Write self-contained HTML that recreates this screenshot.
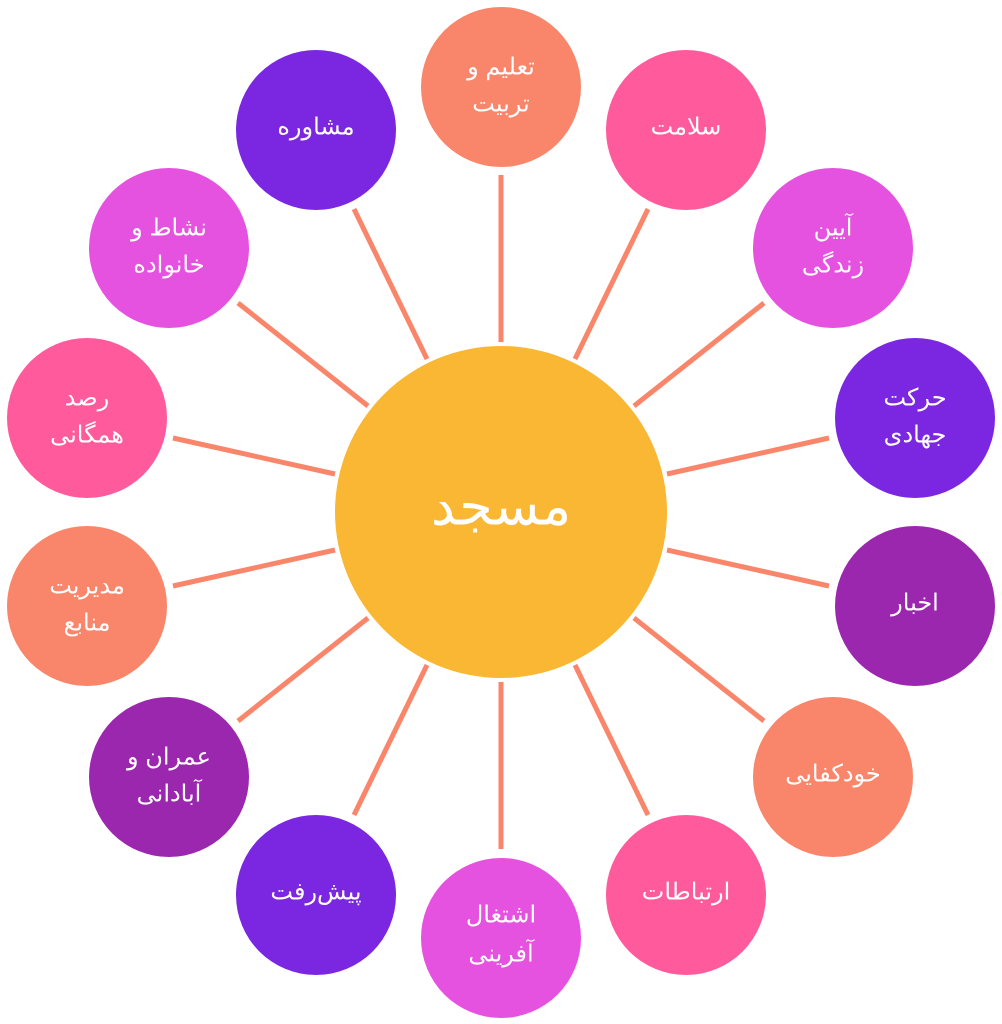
<!DOCTYPE html>
<html><head><meta charset="utf-8"><style>
html,body{margin:0;padding:0;background:#fff;}
svg{display:block}
text{font-family:"Liberation Sans","Noto Sans CJK SC","DejaVu Sans",sans-serif;fill:#fff;text-anchor:middle;dominant-baseline:middle;font-size:24px;}
</style></head><body>
<svg width="1002" height="1024" viewBox="0 0 1002 1024" xmlns="http://www.w3.org/2000/svg">
<g stroke="#F9866A" stroke-width="5" stroke-linecap="butt">
<line x1="501" y1="342" x2="501" y2="175"/>
<line x1="575" y1="359" x2="648" y2="209"/>
<line x1="634" y1="406" x2="764" y2="303"/>
<line x1="667" y1="474" x2="829" y2="438"/>
<line x1="667" y1="550" x2="829" y2="586"/>
<line x1="634" y1="618" x2="764" y2="721"/>
<line x1="575" y1="665" x2="648" y2="815"/>
<line x1="501" y1="682" x2="501" y2="849"/>
<line x1="427" y1="665" x2="354" y2="815"/>
<line x1="368" y1="618" x2="238" y2="721"/>
<line x1="335" y1="550" x2="173" y2="586"/>
<line x1="335" y1="474" x2="173" y2="438"/>
<line x1="368" y1="406" x2="238" y2="303"/>
<line x1="427" y1="359" x2="354" y2="209"/>
</g>
<circle cx="501" cy="512" r="166" fill="#FAB733"/>
<text x="501" y="510" style="font-size:54px">مسجد</text>

<circle cx="501" cy="87" r="80" fill="#F9866A"/>
<text x="501" y="68">تعلیم و</text><text x="501" y="105">تربیت</text>

<circle cx="686" cy="130" r="80" fill="#FF5A9B"/>
<text x="686" y="128">سلامت</text>

<circle cx="833" cy="248" r="80" fill="#E652E0"/>
<text x="833" y="229">آیین</text><text x="833" y="266">زندگی</text>

<circle cx="915" cy="418" r="80" fill="#7B26E0"/>
<text x="915" y="399">حرکت</text><text x="915" y="436">جهادی</text>

<circle cx="915" cy="606" r="80" fill="#9B27AF"/>
<text x="915" y="604">اخبار</text>

<circle cx="833" cy="777" r="80" fill="#F9866A"/>
<text x="833" y="775">خودکفایی</text>

<circle cx="686" cy="895" r="80" fill="#FF5A9B"/>
<text x="686" y="893">ارتباطات</text>

<circle cx="501" cy="938" r="80" fill="#E652E0"/>
<text x="501" y="916">اشتغال</text><text x="501" y="955">آفرینی</text>

<circle cx="316" cy="895" r="80" fill="#7B26E0"/>
<text x="316" y="893">پیش‌رفت</text>

<circle cx="169" cy="777" r="80" fill="#9B27AF"/>
<text x="169" y="758">عمران و</text><text x="169" y="795">آبادانی</text>

<circle cx="87" cy="606" r="80" fill="#F9866A"/>
<text x="87" y="587">مدیریت</text><text x="87" y="624">منابع</text>

<circle cx="87" cy="418" r="80" fill="#FF5A9B"/>
<text x="87" y="399">رصد</text><text x="87" y="436">همگانی</text>

<circle cx="169" cy="248" r="80" fill="#E652E0"/>
<text x="169" y="229">نشاط و</text><text x="169" y="266">خانواده</text>

<circle cx="316" cy="130" r="80" fill="#7B26E0"/>
<text x="316" y="128">مشاوره</text>
</svg>
</body></html>
